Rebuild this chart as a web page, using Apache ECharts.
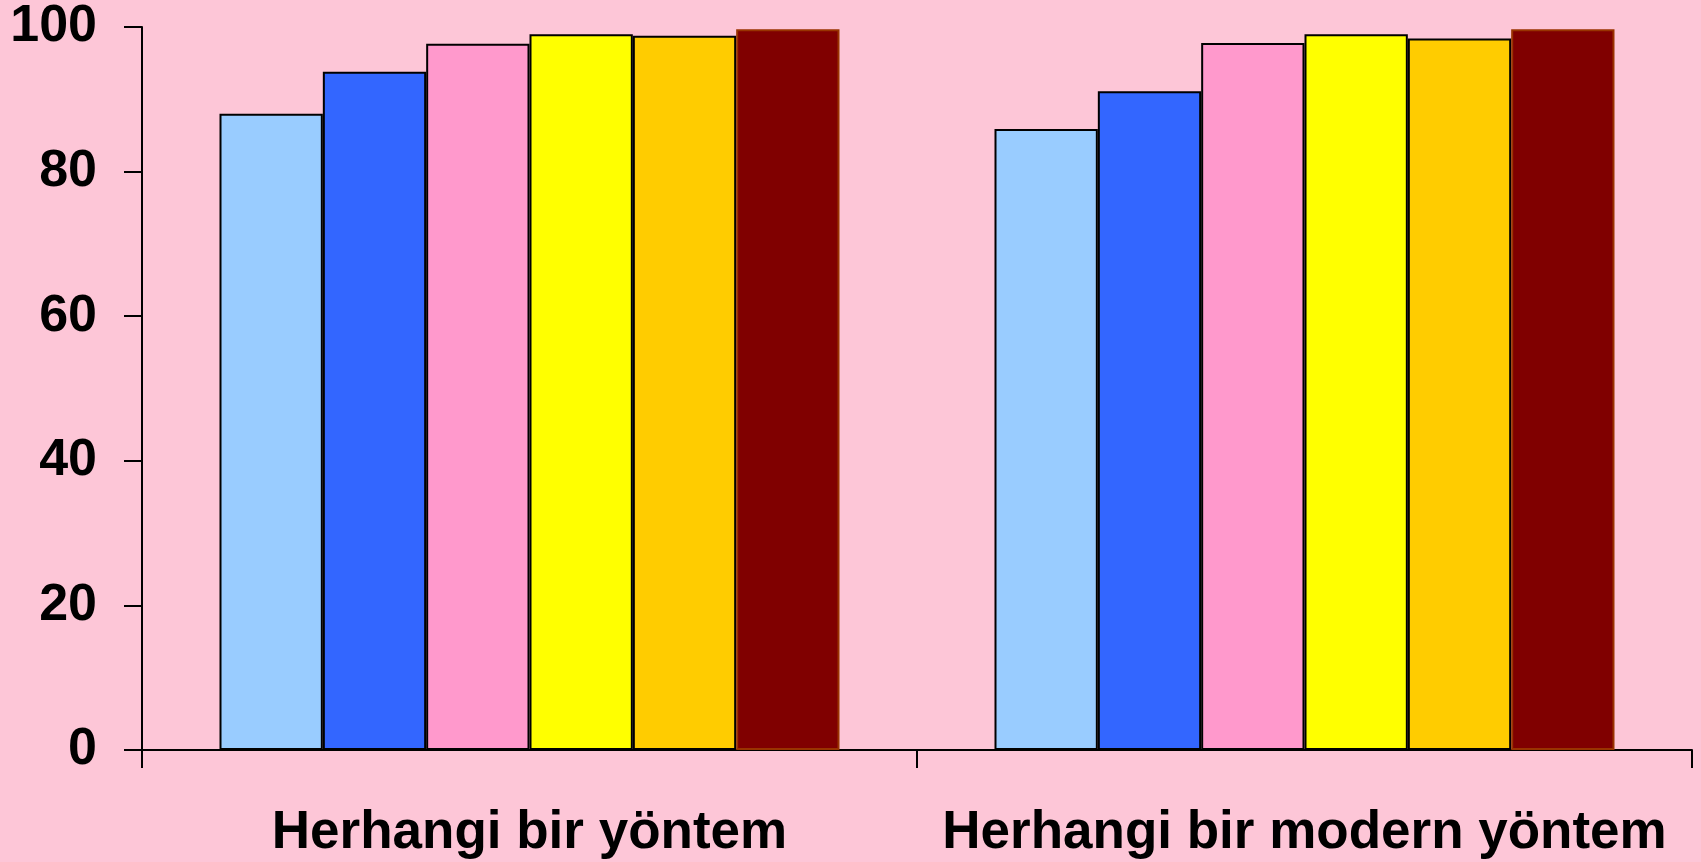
<!DOCTYPE html>
<html>
<head>
<meta charset="utf-8">
<script src="https://cdn.jsdelivr.net/npm/echarts@6/dist/echarts.min.js"></script>
<style>
html,body{margin:0;padding:0;background:#FDC6D7;}
#chart{width:1701px;height:862px;}
</style>
</head>
<body>
<div id="chart"></div>
<script>
var categories = ["Herhangi bir yöntem", "Herhangi bir modern yöntem"];
var seriesNames = ["Seri 1", "Seri 2", "Seri 3", "Seri 4", "Seri 5", "Seri 6"];
var values1 = [88, 85.9];
var values2 = [93.8, 91.1];
var values3 = [97.7, 97.8];
var values4 = [99.0, 99.0];
var values5 = [98.8, 98.4];
var values6 = [99.7, 99.7];
var yTicks = [0, 20, 40, 60, 80, 100];

var allValues = [values1, values2, values3, values4, values5, values6];
var fills = ["#99CCFF", "#3366FF", "#FF99CC", "#FFFF00", "#FFCC00", "#800000"];
var borders = ["#000000", "#000000", "#000000", "#000000", "#000000", "#993300"];

var chart = echarts.init(document.getElementById('chart'), null, {renderer: 'canvas'});
var series = allValues.map(function (vals, i) {
  return {
    name: seriesNames[i],
    type: 'bar',
    data: vals,
    barGap: '0%',
    barCategoryGap: '20%',
    itemStyle: {color: fills[i], borderColor: borders[i], borderWidth: 2},
    emphasis: {disabled: true}
  };
});

chart.setOption({
  backgroundColor: '#FDC6D7',
  animation: false,
  grid: {left: 142, right: 9, top: 27, bottom: 112, containLabel: false},
  xAxis: {
    type: 'category',
    data: categories,
    axisLine: {lineStyle: {color: '#000', width: 2}},
    axisTick: {show: true, length: 18, lineStyle: {color: '#000', width: 2}},
    axisLabel: {
      interval: 0,
      color: '#000', fontFamily: 'Liberation Sans, Arial, sans-serif',
      fontWeight: 'bold', fontSize: 53, margin: 57
    }
  },
  yAxis: {
    type: 'value',
    min: yTicks[0],
    max: yTicks[yTicks.length - 1],
    interval: yTicks[1] - yTicks[0],
    axisLine: {show: true, lineStyle: {color: '#000', width: 2}},
    axisTick: {show: true, length: 18, lineStyle: {color: '#000', width: 2}},
    splitLine: {show: false},
    axisLabel: {
      color: '#000', fontFamily: 'Liberation Sans, Arial, sans-serif',
      fontWeight: 'bold', fontSize: 52, margin: 45
    }
  },
  series: series
});
</script>
</body>
</html>
